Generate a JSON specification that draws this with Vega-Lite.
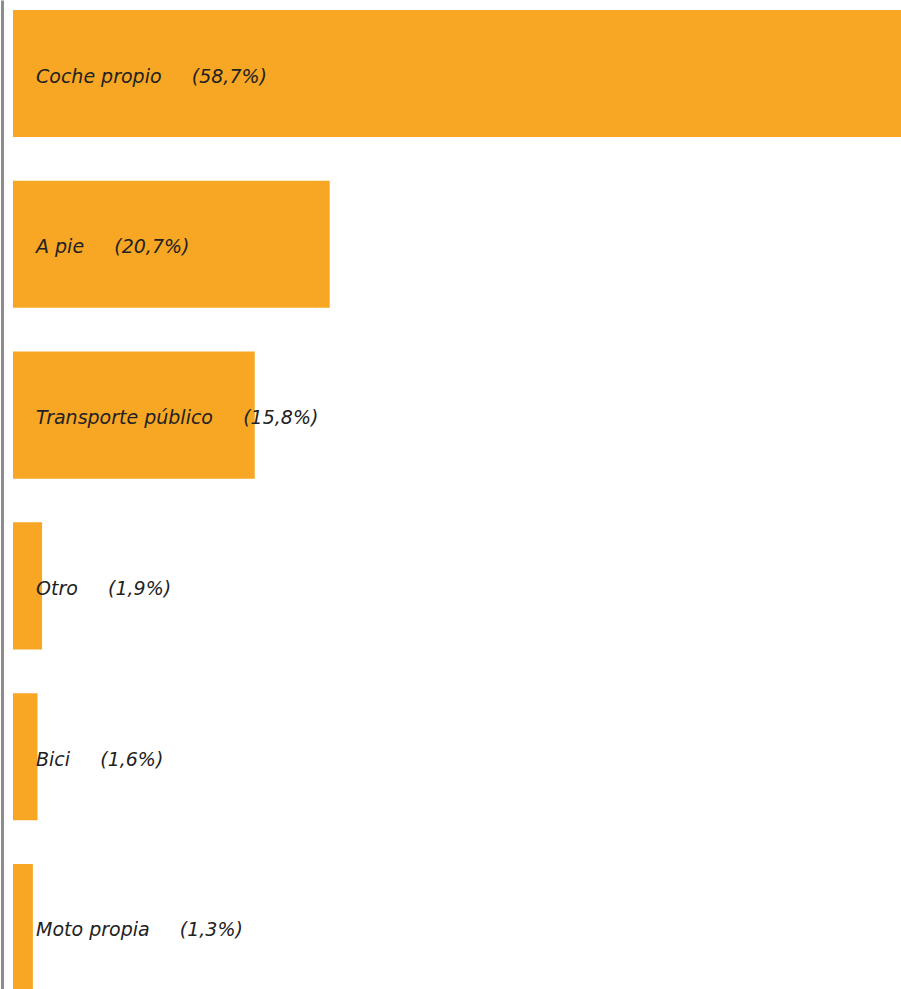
{
  "$schema": "https://vega.github.io/schema/vega-lite/v6.json",
  "width": 888,
  "height": 1001,
  "autosize": "none",
  "padding": {"left": 13, "top": 0, "right": 0, "bottom": 0},
  "background": "white",
  "config": {"view": {"stroke": null}},
  "data": {
    "values": [
      {"modo": "Coche propio", "pct": 58.7, "etiqueta": "Coche propio\u00a0\u00a0\u00a0\u00a0\u00a0(58,7%)"},
      {"modo": "A pie", "pct": 20.7, "etiqueta": "A pie\u00a0\u00a0\u00a0\u00a0\u00a0(20,7%)"},
      {"modo": "Transporte público", "pct": 15.8, "etiqueta": "Transporte público\u00a0\u00a0\u00a0\u00a0\u00a0(15,8%)"},
      {"modo": "Otro", "pct": 1.9, "etiqueta": "Otro\u00a0\u00a0\u00a0\u00a0\u00a0(1,9%)"},
      {"modo": "Bici", "pct": 1.6, "etiqueta": "Bici\u00a0\u00a0\u00a0\u00a0\u00a0(1,6%)"},
      {"modo": "Moto propia", "pct": 1.3, "etiqueta": "Moto propia\u00a0\u00a0\u00a0\u00a0\u00a0(1,3%)"}
    ]
  },
  "encoding": {
    "y": {
      "field": "modo",
      "type": "nominal",
      "sort": null,
      "scale": {"paddingInner": 0.256, "paddingOuter": 0.0585},
      "axis": {"labels": false, "ticks": false, "title": null, "domain": true, "domainColor": "#8c8c8c", "domainWidth": 3, "offset": 11, "grid": false}
    }
  },
  "layer": [
    {
      "mark": {"type": "bar", "color": "#F7A724", "clip": true},
      "encoding": {
        "x": {"field": "pct", "type": "quantitative", "scale": {"domain": [0, 58.04], "nice": false}, "axis": null}
      }
    },
    {
      "mark": {"type": "text", "align": "left", "baseline": "middle", "dx": 23, "dy": 3, "font": "DejaVu Sans", "fontStyle": "italic", "fontSize": 19, "color": "#222222"},
      "encoding": {
        "x": {"datum": 0, "type": "quantitative"},
        "text": {"field": "etiqueta"}
      }
    }
  ]
}
